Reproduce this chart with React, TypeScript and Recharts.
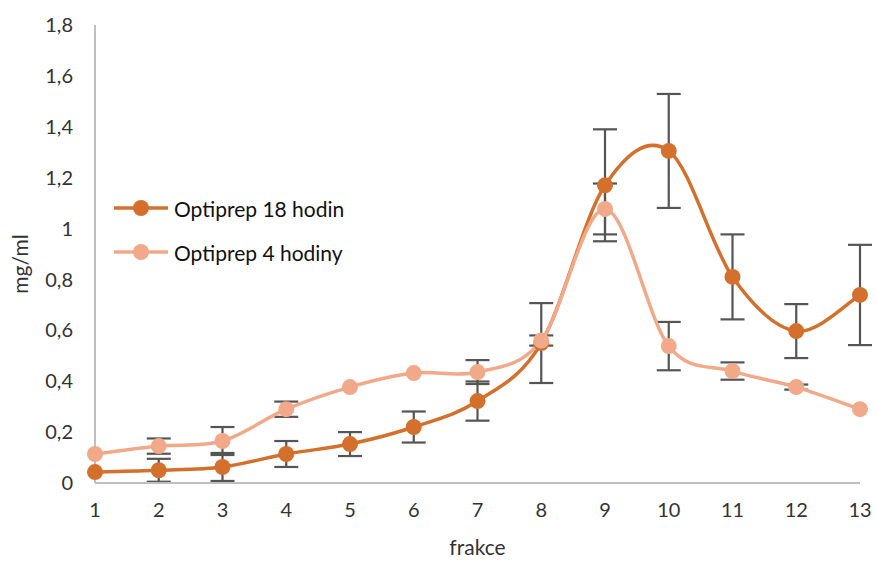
import { LineChart, Line, XAxis, YAxis, ErrorBar } from 'recharts'

const fractions = ['1', '2', '3', '4', '5', '6', '7', '8', '9', '10', '11', '12', '13']
const hours18 = [0.043, 0.05, 0.063, 0.114, 0.153, 0.22, 0.322, 0.55, 1.17, 1.305, 0.81, 0.597, 0.739]
const hours18Err = [0, 0.045, 0.055, 0.051, 0.047, 0.061, 0.077, 0.157, 0.22, 0.224, 0.167, 0.106, 0.197]
const hours4 = [0.114, 0.145, 0.165, 0.29, 0.377, 0.432, 0.436, 0.56, 1.077, 0.538, 0.44, 0.377, 0.29]
const hours4Err = [0, 0.03, 0.055, 0.03, 0, 0, 0.047, 0.02, 0.1, 0.095, 0.034, 0.01, 0]
const yTicks = [0, 0.2, 0.4, 0.6, 0.8, 1, 1.2, 1.4, 1.6, 1.8]

const DARK = '#D4702C'
const LIGHT = '#F2A98A'
const FONT = 'Lato, "Noto Sans", sans-serif'

const data = fractions.map((f, i) => ({
  f,
  h18: hours18[i],
  e18: hours18Err[i],
  h4: hours4[i],
  e4: hours4Err[i],
}))

// Excel-style smoothed line (Catmull-Rom through the points)
const excelCurve = (ctx: any) => {
  let pts: [number, number][] = []
  return {
    areaStart() {},
    areaEnd() {},
    lineStart() {
      pts = []
    },
    lineEnd() {
      if (!pts.length) return
      ctx.moveTo(pts[0][0], pts[0][1])
      for (let i = 0; i < pts.length - 1; i++) {
        const p0 = pts[i - 1] || pts[i]
        const p1 = pts[i]
        const p2 = pts[i + 1]
        const p3 = pts[i + 2] || p2
        ctx.bezierCurveTo(
          p1[0] + (p2[0] - p0[0]) / 6,
          p1[1] + (p2[1] - p0[1]) / 6,
          p2[0] - (p3[0] - p1[0]) / 6,
          p2[1] - (p3[1] - p1[1]) / 6,
          p2[0],
          p2[1]
        )
      }
    },
    point(x: number, y: number) {
      pts.push([x, y])
    },
  }
}

const legendItems = [
  { name: 'Optiprep 18 hodin', color: DARK },
  { name: 'Optiprep 4 hodiny', color: LIGHT },
]

function ChartLegend() {
  return (
    <div style={{ position: 'absolute', left: 112, top: 186, fontFamily: FONT, fontSize: 21, color: '#111' }}>
      {legendItems.map((it) => (
        <div key={it.name} style={{ display: 'flex', alignItems: 'center', height: 44 }}>
          <svg width={58} height={20}>
            <line x1={2} y1={10} x2={56} y2={10} stroke={it.color} strokeWidth={3.5} />
            <circle cx={29} cy={10} r={8} fill={it.color} />
          </svg>
          <span style={{ marginLeft: 4 }}>{it.name}</span>
        </div>
      ))}
    </div>
  )
}

export default function App() {
  const tickStyle = { fontFamily: FONT, fontSize: 20, fill: '#333' }
  const titleStyle = { fontFamily: FONT, fontSize: 21, fill: '#333' }
  return (
    <div style={{ position: 'relative', width: 876, height: 561, background: '#fff' }}>
      <style>{'body{margin:0}'}</style>
      <LineChart width={876} height={561} data={data} margin={{ top: 25, right: 16, bottom: 0, left: 0 }}>
        <XAxis
          dataKey="f"
          height={78}
          stroke="#bfbfbf"
          strokeWidth={2}
          tickLine={false}
          tickSize={0}
          tickMargin={20}
          tick={tickStyle}
          label={{ value: 'frakce', position: 'insideBottom', offset: 6, style: titleStyle }}
        />
        <YAxis
          width={95}
          domain={[0, 1.8]}
          ticks={yTicks}
          interval={0}
          stroke="#bfbfbf"
          strokeWidth={2}
          tickLine={false}
          tickSize={0}
          tickMargin={22}
          tick={tickStyle}
          tickFormatter={(v: number) => String(v).replace('.', ',')}
          label={{ value: 'mg/ml', angle: -90, position: 'center', dx: -27, dy: 10, style: titleStyle }}
        />
        <Line
          type={excelCurve as any}
          dataKey="h18"
          name="Optiprep 18 hodin"
          stroke={DARK}
          strokeWidth={3.5}
          dot={{ r: 8, fill: DARK, stroke: DARK, strokeWidth: 0 }}
          activeDot={false}
          isAnimationActive={false}
        >
          <ErrorBar dataKey="e18" width={12} strokeWidth={2.2} stroke="#555" direction="y" isAnimationActive={false} />
        </Line>
        <Line
          type={excelCurve as any}
          dataKey="h4"
          name="Optiprep 4 hodiny"
          stroke={LIGHT}
          strokeWidth={3.5}
          dot={{ r: 8, fill: LIGHT, stroke: LIGHT, strokeWidth: 0 }}
          activeDot={false}
          isAnimationActive={false}
        >
          <ErrorBar dataKey="e4" width={12} strokeWidth={2.2} stroke="#555" direction="y" isAnimationActive={false} />
        </Line>
      </LineChart>
      <ChartLegend />
    </div>
  )
}
